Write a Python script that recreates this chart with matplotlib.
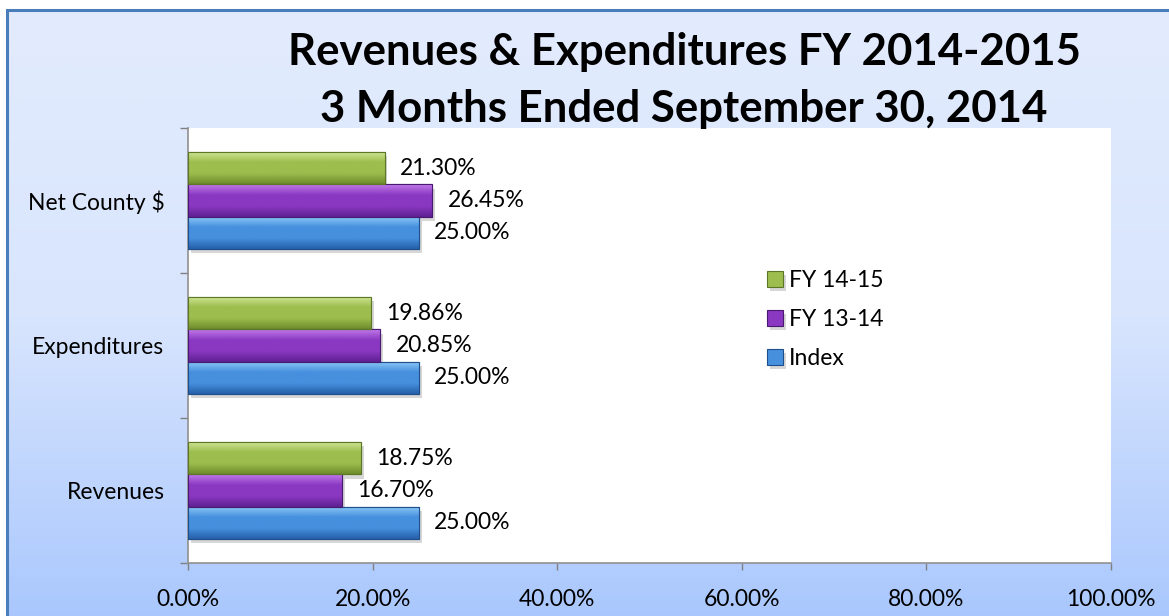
import numpy as np
import matplotlib
matplotlib.use("Agg")
import matplotlib.pyplot as plt
from matplotlib.colors import LinearSegmentedColormap
from matplotlib.patches import Rectangle
import matplotlib.patheffects as pe

plt.rcParams['font.family'] = ['Lato', 'DejaVu Sans']

categories = ["Revenues", "Expenditures", "Net County $"]
series_names = ["Index", "FY 13-14", "FY 14-15"]
index_vals = [25.00, 25.00, 25.00]
fy1314_vals = [16.70, 20.85, 26.45]
fy1415_vals = [18.75, 19.86, 21.30]
x_ticks = [0, 20, 40, 60, 80, 100]
title_lines = ["Revenues & Expenditures FY 2014-2015", "3 Months Ended September 30, 2014"]

series_vals = [index_vals, fy1314_vals, fy1415_vals]
# (highlight, base, shadow, edge)
palettes = [
    ("#8FCBF7", "#4690DE", "#255FA8", "#1E4F8C"),
    ("#C27BEA", "#8A38C2", "#5E2090", "#4A1A72"),
    ("#D2E79A", "#9DBE4E", "#6E8C2C", "#5C7726"),
]
FS = 16.5

W, H = 1169, 616
fig = plt.figure(figsize=(W / 100, H / 100), dpi=100)

# background gradient inside blue frame
bg = fig.add_axes([0, 0, 1, 1], zorder=-10)
bg.set_axis_off()
grad = np.linspace(0, 1, 256).reshape(-1, 1)
bg_cmap = LinearSegmentedColormap.from_list("bg", ["#E3ECFD", "#D8E5FD", "#A9C7FE"])
fx0, fy1 = 7 / W, 1 - 10 / H
bg.imshow(grad, aspect="auto", cmap=bg_cmap, extent=[fx0, 1.01, -0.01, fy1], origin="upper",
          transform=bg.transAxes)
bg.set_xlim(0, 1)
bg.set_ylim(0, 1)
bg.add_patch(Rectangle((fx0, -0.05), 1.1, fy1 + 0.05, transform=bg.transAxes, fill=False,
                       edgecolor="#4A7EBB", linewidth=2.2))

left, right = 188 / W, 1111 / W
bottom, top = 1 - 563 / H, 1 - 128 / H
ax = fig.add_axes([left, bottom, right - left, top - bottom])
ax.set_facecolor("white")

y = np.arange(len(categories))
bh = 0.222
offsets = [-bh, 0, bh]
for vals, off, pal, name in zip(series_vals, offsets, palettes, series_names):
    bars = ax.barh(y + off, vals, height=bh, facecolor=pal[1], edgecolor=pal[3], linewidth=0.8,
                   label=name, zorder=3,
                   path_effects=[pe.SimplePatchShadow(offset=(2, -3), alpha=0.25, shadow_rgbFace="#606060"),
                                 pe.Normal()])
    cm = LinearSegmentedColormap.from_list("b", [pal[0], pal[1], pal[1], pal[2]])
    for b, v in zip(bars, vals):
        x0, y0, w, h = b.get_x(), b.get_y(), b.get_width(), b.get_height()
        im = ax.imshow(grad, aspect="auto", cmap=cm, extent=[x0, x0 + w, y0, y0 + h],
                       origin="upper", zorder=4)
        im.set_clip_path(b)
        ax.add_patch(Rectangle((x0, y0), w, h, fill=False, edgecolor=pal[3], linewidth=0.8, zorder=5))
        ax.annotate(f"{v:.2f}%", xy=(x0 + w, y0 + h / 2), xytext=(11, 0), textcoords="offset points",
                    ha="left", va="center", fontsize=FS, color="black", zorder=6)

ax.set_xlim(0, 100)
ax.set_ylim(-0.5, len(categories) - 0.5)
ax.set_xticks(x_ticks)
ax.set_xticklabels([f"{t:.2f}%" for t in x_ticks], fontsize=FS)
ax.set_yticks(y)
ax.set_yticklabels(categories, fontsize=FS)
ax.tick_params(axis="y", which="major", length=0, pad=17)
ax.set_yticks(np.arange(len(categories) + 1) - 0.5, minor=True)
ax.tick_params(axis="y", which="minor", length=6, color="#808080", width=1)
ax.tick_params(axis="x", length=5, color="#808080", width=1, pad=14, direction="out")
for s in ["top", "right"]:
    ax.spines[s].set_visible(False)
for s in ["left", "bottom"]:
    ax.spines[s].set_color("#909090")
    ax.spines[s].set_linewidth(1.2)

# legend
handles, labels = ax.get_legend_handles_labels()
leg = ax.legend(handles[::-1], labels[::-1], loc="center left", bbox_to_anchor=(0.605, 0.56),
                frameon=False, fontsize=FS, handlelength=0.7, handleheight=0.7,
                handletextpad=0.25, labelspacing=0.8)

cx = 684 / W
fig.text(cx, 1 - 65 / H, title_lines[0], ha="center", va="baseline", fontsize=31.5, fontweight="bold")
fig.text(cx, 1 - 122 / H, title_lines[1], ha="center", va="baseline", fontsize=31.5, fontweight="bold")

fig.savefig("out.png", dpi=100)
